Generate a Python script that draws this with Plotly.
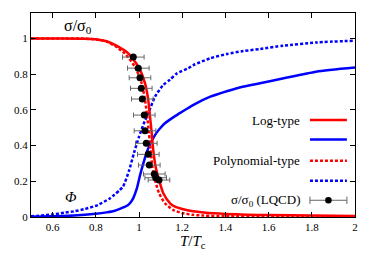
import plotly.graph_objects as go

# ---- data ----
T_log_sigma = [0.5, 0.65, 0.75, 0.8, 0.85, 0.889, 0.95, 0.997, 1.028, 1.043, 1.051, 1.059, 1.066,
               1.077, 1.093, 1.1125, 1.144, 1.167, 1.2, 1.25, 1.3, 1.4, 1.5, 1.6, 1.8, 2.0]
log_sigma = [1.0, 1.0, 0.999, 0.996, 0.985, 0.964, 0.917, 0.842, 0.749, 0.655, 0.562, 0.469, 0.375,
             0.282, 0.207, 0.133, 0.077, 0.058, 0.045, 0.032, 0.025, 0.017, 0.013, 0.011, 0.008, 0.006]

T_poly_sigma = [0.5, 0.65, 0.75, 0.8, 0.85, 0.889, 0.935, 0.981, 1.0125, 1.028, 1.038, 1.046, 1.054,
                1.062, 1.074, 1.093, 1.12, 1.159, 1.2, 1.25, 1.3, 1.4, 1.6, 2.0]
poly_sigma = [1.0, 1.0, 0.999, 0.995, 0.983, 0.958, 0.915, 0.842, 0.749, 0.655, 0.562, 0.469, 0.375,
              0.282, 0.207, 0.133, 0.077, 0.039, 0.022, 0.012, 0.008, 0.005, 0.003, 0.002]

T_log_phi = [0.5, 0.6, 0.7, 0.8, 0.85, 0.889, 0.93, 0.95, 0.965, 0.975, 0.99, 1.005, 1.02, 1.035,
             1.05, 1.065, 1.08, 1.1, 1.12, 1.167, 1.2, 1.25, 1.33, 1.41, 1.48, 1.56, 1.67, 1.82, 2.0]
log_phi = [0.001, 0.004, 0.008, 0.018, 0.026, 0.035, 0.055, 0.067, 0.088, 0.11, 0.16, 0.235, 0.3, 0.36,
           0.405, 0.44, 0.47, 0.5, 0.525, 0.565, 0.59, 0.627, 0.674, 0.706, 0.73, 0.749, 0.777, 0.814, 0.837]

T_poly_phi = [0.5, 0.6, 0.654, 0.7, 0.75, 0.809, 0.866, 0.886, 0.91, 0.926, 0.954, 0.977, 1.0, 1.021,
              1.046, 1.074, 1.1125, 1.144, 1.176, 1.227, 1.25, 1.329, 1.406, 1.483, 1.56, 1.668, 1.823, 2.0]
poly_phi = [0.004, 0.014, 0.024, 0.032, 0.045, 0.067, 0.105, 0.125, 0.15, 0.17, 0.26, 0.36, 0.45, 0.52,
            0.59, 0.674, 0.74, 0.77, 0.805, 0.833, 0.85, 0.889, 0.913, 0.93, 0.941, 0.96, 0.978, 0.988]

T_lqcd = [0.9736, 0.9968, 1.0046, 1.0106, 1.0153, 1.0245, 1.0278, 1.0338, 1.0431, 1.0477, 1.0708, 1.0773, 1.0926]
sigma_lqcd = [0.896, 0.834, 0.780, 0.721, 0.661, 0.571, 0.483, 0.413, 0.351, 0.291, 0.241, 0.220, 0.207]
T_lqcd_err = [0.05] * len(T_lqcd)

x_ticks = [0.6, 0.8, 1.0, 1.2, 1.4, 1.6, 1.8, 2.0]
x_ticklabels = ["0.6", "0.8", "1", "1.2", "1.4", "1.6", "1.8", "2"]
y_ticks = [0, 0.2, 0.4, 0.6, 0.8, 1.0]
y_ticklabels = ["0", "0.2", "0.4", "0.6", "0.8", "1"]

RED = "#ff0000"
BLUE = "#0000ff"
DOT = "3px,2px"
FONT = "Liberation Serif, Times New Roman, Times, serif"

fig = go.Figure()
fig.add_trace(go.Scatter(x=T_poly_phi, y=poly_phi, mode="lines",
                         line=dict(color=BLUE, width=2.5, dash=DOT, shape="spline", smoothing=0.6)))
fig.add_trace(go.Scatter(x=T_log_phi, y=log_phi, mode="lines",
                         line=dict(color=BLUE, width=2.5, shape="spline", smoothing=0.6)))
fig.add_trace(go.Scatter(x=T_poly_sigma, y=poly_sigma, mode="lines",
                         line=dict(color=RED, width=2.5, dash=DOT, shape="spline", smoothing=0.6)))
fig.add_trace(go.Scatter(x=T_log_sigma, y=log_sigma, mode="lines",
                         line=dict(color=RED, width=2.5, shape="spline", smoothing=0.6)))
fig.add_trace(go.Scatter(x=T_lqcd, y=sigma_lqcd, mode="markers",
                         marker=dict(color="black", size=7),
                         error_x=dict(type="data", array=T_lqcd_err, color="#666666",
                                      thickness=1, width=2.5)))

axis_common = dict(showline=True, linecolor="black", linewidth=1, mirror="allticks",
                   ticks="inside", ticklen=5, tickcolor="black", tickwidth=1,
                   showgrid=False, zeroline=False,
                   tickfont=dict(family=FONT, size=11, color="black"))
fig.update_xaxes(range=[0.5, 2.0], tickmode="array", tickvals=x_ticks, ticktext=x_ticklabels, **axis_common)
fig.update_yaxes(range=[0, 1.143], tickmode="array", tickvals=y_ticks, ticktext=y_ticklabels, **axis_common)

annotations = [
    dict(x=0.5, y=-0.121, xref="paper", yref="paper", text="<i>T</i>/<i>T</i><sub>c</sub>",
         showarrow=False, font=dict(family=FONT, size=15), xanchor="center", yanchor="middle"),
    dict(x=0.718, y=1.07, xref="x", yref="y", text="σ/σ<sub>0</sub>",
         showarrow=False, font=dict(family=FONT, size=16), xanchor="center", yanchor="middle"),
    dict(x=0.685, y=0.114, xref="x", yref="y", text="<i>Φ</i>",
         showarrow=False, font=dict(family=FONT, size=15), xanchor="center", yanchor="middle"),
]

leg_text_x = 0.835
leg_x0, leg_x1 = 0.861, 0.975
legend_rows = [
    ("Log-type", 0.475, RED, None),
    ("", 0.380, BLUE, None),
    ("Polynomial-type", 0.276, RED, DOT),
    ("", 0.178, BLUE, DOT),
]
shapes = []
for label, yy, col, dash in legend_rows:
    if label:
        annotations.append(dict(x=leg_text_x, y=yy, xref="paper", yref="paper", text=label,
                                showarrow=False, font=dict(family=FONT, size=13),
                                xanchor="right", yanchor="middle"))
    shapes.append(dict(type="line", xref="paper", yref="paper", x0=leg_x0, x1=leg_x1, y0=yy, y1=yy,
                       line=dict(color=col, width=2.5, dash=dash if dash else "solid")))

y_lq = 0.082
annotations.append(dict(x=leg_text_x, y=y_lq, xref="paper", yref="paper", text="σ/σ<sub>0</sub> (LQCD)",
                        showarrow=False, font=dict(family=FONT, size=13), xanchor="right", yanchor="middle"))
shapes.append(dict(type="line", xref="paper", yref="paper", x0=leg_x0, x1=leg_x1, y0=y_lq, y1=y_lq,
                   line=dict(color="#666666", width=1)))
for xc in (leg_x0, leg_x1):
    shapes.append(dict(type="line", xref="paper", yref="paper", x0=xc, x1=xc,
                       y0=y_lq - 0.018, y1=y_lq + 0.018, line=dict(color="#666666", width=1)))
shapes.append(dict(type="circle", xref="paper", yref="paper", xsizemode="pixel", ysizemode="pixel",
                   xanchor=(leg_x0 + leg_x1) / 2, yanchor=y_lq, x0=-3.3, x1=3.3, y0=-3.3, y1=3.3,
                   fillcolor="black", line=dict(color="black", width=0)))

fig.update_layout(width=374, height=261, margin=dict(l=31, r=19, t=13, b=44),
                  plot_bgcolor="white", paper_bgcolor="white", showlegend=False,
                  font=dict(family=FONT, size=11, color="black"),
                  annotations=annotations, shapes=shapes)

fig.write_html("out.html", config={"displayModeBar": False},
               post_script="document.body.style.margin='0';")
